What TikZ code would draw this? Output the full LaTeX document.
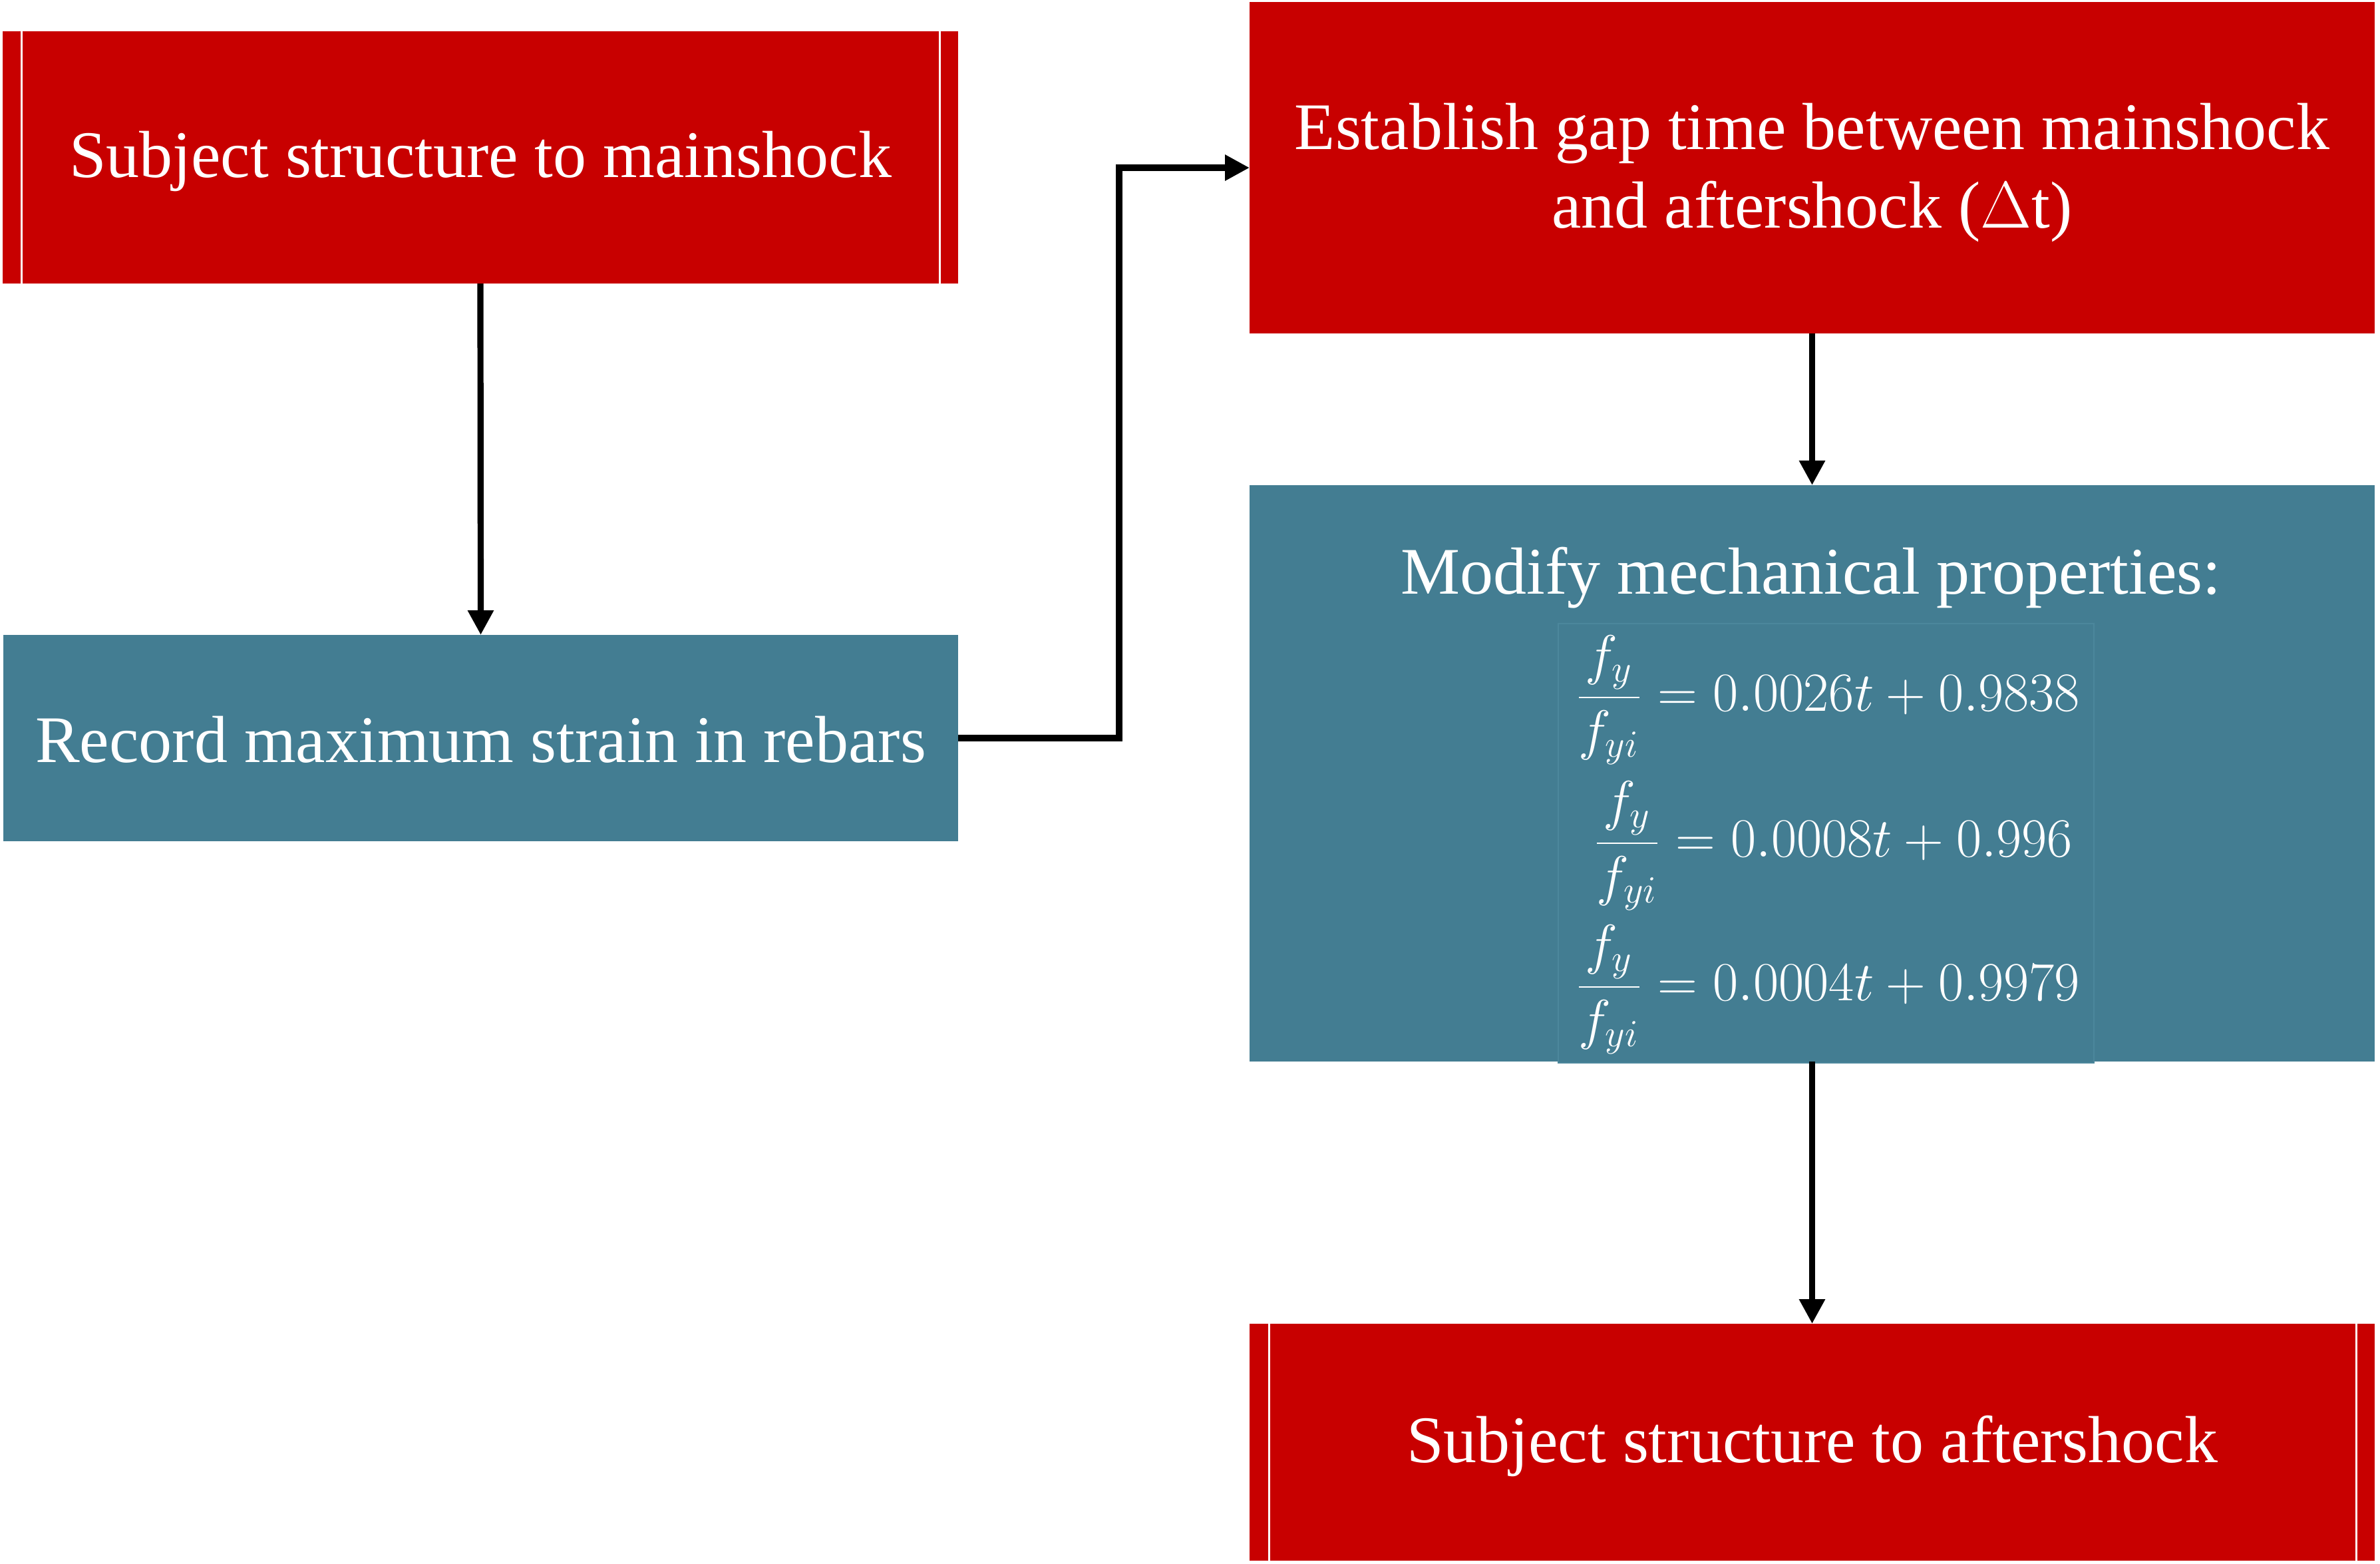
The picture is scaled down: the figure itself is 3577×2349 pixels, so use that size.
\documentclass[tikz,border=0pt]{standalone}
\usepackage{fontspec}
\setmainfont{Liberation Serif}
\usetikzlibrary{arrows.meta}
\definecolor{boxred}{RGB}{200,0,0}
\definecolor{boxteal}{RGB}{67,125,146}
\definecolor{eqedge}{RGB}{76,135,156}
\begin{document}
\begin{tikzpicture}[x=0.25pt,y=-0.25pt,
  box/.style={inner sep=0pt,outer sep=0pt,text=white,align=center,
    font=\fontsize{25}{29.5}\selectfont,text height=20pt,text depth=5pt},
  redbox/.style={box,fill=boxred},
  tealbox/.style={box,fill=boxteal},
  conn/.style={line width=2.3pt,-{Triangle[length=9.25pt,width=9.25pt]}},
  ppline/.style={white,line width=0.75pt},
  eqn/.style={text=white,inner sep=0pt,font=\fontsize{20.5}{24}\selectfont}
]
\useasboundingbox (0,0) rectangle (3577,2349);

% boxes
\node[redbox,minimum width=359pt,minimum height=94.75pt] (main) at (722,236.5) {Subject structure to mainshock};
\node[tealbox,minimum width=358.75pt,minimum height=77.5pt,text height=23pt,text depth=5pt] (rec) at (722.5,1109) {Record maximum strain in rebars};
\node[redbox,minimum width=422.75pt,minimum height=124.5pt,text height=50pt,text depth=5pt] (est) at (2723.5,252) {Establish gap time between mainshock\\and aftershock ($\Delta$t)};
\node[tealbox,minimum width=422.75pt,minimum height=216.5pt] (mod) at (2723.5,1162) {};
\node[redbox,minimum width=422.75pt,minimum height=89pt] (after) at (2723.5,2167) {Subject structure to aftershock};

% predefined process side lines
\draw[ppline] ([xshift=7pt]main.north west) -- ([xshift=7pt]main.south west);
\draw[ppline] ([xshift=-7pt]main.north east) -- ([xshift=-7pt]main.south east);
\draw[ppline] ([xshift=7.25pt]after.north west) -- ([xshift=7.25pt]after.south west);
\draw[ppline] ([xshift=-7pt]after.north east) -- ([xshift=-7pt]after.south east);

% equation box inside modify box
\node[fill=boxteal,draw=eqedge,line width=0.4pt,inner sep=0pt,minimum width=201.25pt,minimum height=165pt] (eqbox) at (2744.5,1267) {};
\node[text=white,inner sep=0pt,font=\fontsize{25}{29.5}\selectfont,anchor=base] (modtitle) at (2722,892) {Modify mechanical properties:};
\node[eqn] (eq1) at (2747,1052) {$\displaystyle\frac{f_y}{f_{yi}}=0.0026t+0.9838$};
\node[eqn] (eq2) at (2755,1271) {$\displaystyle\frac{f_y}{f_{yi}}=0.0008t+0.996$};
\node[eqn] (eq3) at (2747,1487) {$\displaystyle\frac{f_y}{f_{yi}}=0.0004t+0.9979$};

% connectors
\draw[conn] (main.south) -- (rec.north);
\draw[conn] (rec.east) -- (1682,1109) |- (est.west);
\draw[conn] (est.south) -- (mod.north);
\draw[conn] (mod.south) -- (after.north);
\end{tikzpicture}
\end{document}
